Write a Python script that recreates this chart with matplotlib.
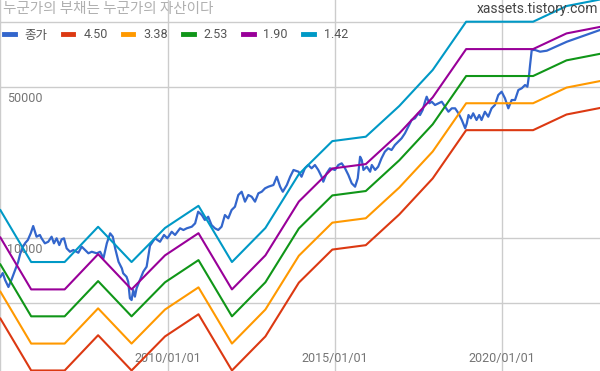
import numpy as np
import pandas as pd
import matplotlib
matplotlib.use('Agg')
import matplotlib.pyplot as plt
from matplotlib.lines import Line2D
from matplotlib.ticker import NullLocator
from matplotlib.transforms import ScaledTranslation

plt.rcParams['font.family'] = ['Roboto', 'Noto Sans CJK KR', 'DejaVu Sans']

# closing price (decimal year, won)
close_t = [2005.00, 2005.07, 2005.14, 2005.24, 2005.34, 2005.44, 2005.53, 2005.59, 2005.67, 2005.74, 2005.82, 2005.91, 2005.98,
           2006.08, 2006.18, 2006.23, 2006.33, 2006.43, 2006.53, 2006.60, 2006.68, 2006.76, 2006.83, 2006.90, 2006.98,
           2007.08, 2007.18, 2007.33, 2007.43, 2007.53, 2007.63, 2007.73, 2007.88, 2007.98,
           2008.08, 2008.18, 2008.28, 2008.36, 2008.43, 2008.53, 2008.63, 2008.67, 2008.77, 2008.82, 2008.87, 2008.92, 2008.97,
           2009.02, 2009.07, 2009.17, 2009.27, 2009.37, 2009.47, 2009.62, 2009.77, 2009.89, 2009.99,
           2010.12, 2010.22, 2010.37, 2010.47, 2010.57, 2010.72, 2010.82, 2010.91,
           2011.02, 2011.11, 2011.21, 2011.31, 2011.41, 2011.51, 2011.61, 2011.71, 2011.81, 2011.91,
           2012.01, 2012.11, 2012.21, 2012.31, 2012.41, 2012.51, 2012.61, 2012.71, 2012.81, 2012.91,
           2013.01, 2013.16, 2013.26, 2013.36, 2013.44, 2013.56, 2013.66, 2013.76, 2013.91,
           2014.00, 2014.10, 2014.20, 2014.30, 2014.40, 2014.50, 2014.60, 2014.65, 2014.75, 2014.85,
           2015.00, 2015.10, 2015.20, 2015.30, 2015.40, 2015.50, 2015.60, 2015.68, 2015.75, 2015.80, 2015.85, 2015.95,
           2016.05, 2016.10, 2016.20, 2016.29, 2016.39, 2016.49, 2016.59, 2016.69, 2016.79, 2016.89, 2016.99,
           2017.09, 2017.19, 2017.29, 2017.39, 2017.49, 2017.54, 2017.62, 2017.69, 2017.74, 2017.82, 2017.89, 2017.99,
           2018.09, 2018.19, 2018.29, 2018.39, 2018.49, 2018.59, 2018.69, 2018.79, 2018.89, 2018.94, 2018.99,
           2019.06, 2019.13, 2019.23, 2019.31, 2019.38, 2019.48, 2019.58, 2019.68, 2019.78, 2019.88, 2019.98,
           2020.08, 2020.18, 2020.28, 2020.38, 2020.48, 2020.58, 2020.68, 2020.75, 2020.80, 2020.83, 2020.88, 2020.98,
           2021.13, 2021.33, 2021.93, 2022.92]
close_v = [6610, 6890, 6400, 5940, 6470, 7110, 7750, 8440, 9090, 9480, 9790, 10550, 11360,
           10140, 10330, 9970, 9450, 9610, 10140, 9450, 9970, 9280, 9860, 9970, 8960,
           8640, 8800, 8550, 9120, 8800, 8500, 8640, 8500, 8640,
           8060, 9450, 10510, 10140, 8960, 7770, 7240, 6870, 6620, 6280, 5270, 5170, 5750,
           5360, 5860, 6400, 6990, 7370, 9200, 9970, 9610, 10330, 9970,
           10690, 10330, 11090, 10890, 11090, 11280, 11690, 13230,
           12770, 12110, 12540, 11480, 11090, 10890, 11280, 12770, 12330, 13470,
           13950, 15800, 16360, 14720, 15800, 15510, 14720, 16090, 16360, 16970,
           17260, 17570, 19190, 17260, 16360, 17570, 19190, 20620, 20240,
           19190, 20990, 21740, 20990, 21740, 20620, 19190, 18200, 19900, 20990,
           20620, 21740, 22130, 20990, 19540, 17890, 17260, 18870, 23740, 22930, 20620, 21350,
           20240, 21740, 20620, 21350, 23340, 25040, 25960, 25500, 26890, 27850, 28870,
           30440, 32670, 35080, 35720, 37670, 36990, 39010, 42610, 44940, 41900, 42610, 41150,
           41900, 42610, 40410, 38310, 39720, 39720, 37670, 35080, 32110, 33870, 36990,
           35720, 37670, 35080, 36990, 35080, 38310, 36330, 39720, 41150, 45760, 47400,
           44180, 39720, 43390, 43390, 48260, 49140, 50890, 49980, 56590, 62970, 73860, 73860,
           72540, 73310, 80670, 91370]

# dividend per share behind the yield bands (decimal year, won)
dps_t = [2005.00, 2005.92, 2006.92, 2007.92, 2008.92, 2009.92, 2010.92, 2011.92, 2012.92, 2013.92,
         2014.92, 2015.92, 2016.92, 2017.92, 2018.92, 2019.92, 2020.92, 2021.92, 2022.92]
dps_v = [191, 110, 110, 160, 110, 158, 200, 110, 158, 280,
         398, 417, 578, 848, 1417, 1417, 1417, 1674, 1794]

# dividend yield (%) of each band
yields = [4.50, 3.38, 2.53, 1.90, 1.42]
band_labels = ['4.50', '3.38', '2.53', '1.90', '1.42']
band_colors = ['#dc3912', '#ff9900', '#109618', '#990099', '#0099c6']
close_color = '#3366cc'


def to_date(years):
    years = np.asarray(years, dtype=float)
    return pd.Timestamp('2005-01-01') + pd.to_timedelta((years - 2005.0) * 365.25, unit='D')


fig = plt.figure(figsize=(6, 3.71), dpi=100)
ax = fig.add_axes([0, 0, 1, 1])

ax.plot(to_date(close_t), close_v, color=close_color, lw=1.6, zorder=3)
for y, c in zip(yields, band_colors):
    band = np.array(dps_v) / (y / 100)
    ax.plot(to_date(dps_t), band, color=c, lw=1.5, zorder=4)

ax.set_yscale('log')
ax.set_ylim(2431, 125700)
ax.set_xlim(to_date(2004.988), to_date(2022.92))

# gridlines and inside labels
ax.set_yticks([5000, 10000, 50000, 100000], labels=['', '10000', '50000', ''])
ax.yaxis.set_minor_locator(NullLocator())
ax.tick_params(axis='y', length=0, pad=-5, labelsize=9, labelcolor='#757575')
for lab in ax.get_yticklabels():
    lab.set_horizontalalignment('left')
    lab.set_transform(lab.get_transform() + ScaledTranslation(0, -0.10, fig.dpi_scale_trans))

ax.set_xticks(to_date([2005.0, 2010.0, 2015.0, 2020.0]),
              labels=['', '2010/01/01', '2015/01/01', '2020/01/01'])
ax.tick_params(axis='x', length=0, pad=-13.5, labelsize=9, labelcolor='#757575')

ax.grid(True, color='#cccccc', lw=1)
ax.set_axisbelow(True)
for s in ax.spines.values():
    s.set_visible(False)

handles = [Line2D([], [], color=close_color, lw=3.5)]
handles += [Line2D([], [], color=c, lw=3.5) for c in band_colors]
ax.legend(handles, ['종가'] + band_labels, loc='center left',
          bbox_to_anchor=(4 / 600, 1 - 35 / 371), ncol=6, frameon=False,
          fontsize=9, labelcolor='#555555', handlelength=0.85, handletextpad=0.8,
          columnspacing=1.2, borderpad=0, borderaxespad=0)

fig.text(3 / 600, 1 - 9 / 371, '누군가의 부채는 누군가의 자산이다', fontsize=10.5,
         color='#b0b0b0', va='center', family=['Noto Sans CJK KR', 'DejaVu Sans'])
fig.text(598 / 600, 1 - 9 / 371, 'xassets.tistory.com', fontsize=10,
         color='#444444', ha='right', va='center')

fig.savefig('out.png', dpi=100)
